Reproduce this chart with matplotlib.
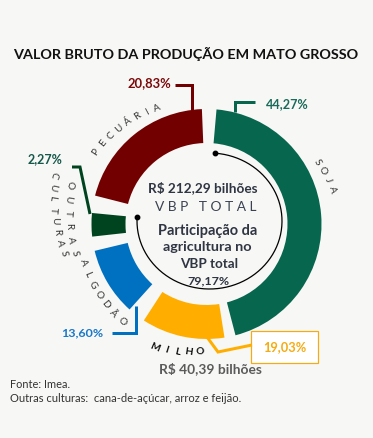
import matplotlib
matplotlib.use("Agg")
import matplotlib.pyplot as plt
from matplotlib.patches import Wedge, Rectangle
import numpy as np

# ---------------- data ----------------
categories = ["Soja", "Milho", "Algodão", "Outras culturas", "Pecuária"]
shares = [44.27, 19.03, 13.60, 2.27, 20.83]          # % of VBP
vbp_total = 212.29                                    # R$ bilhões
agri_share = 79.17                                    # % agricultura
milho_value = 40.39                                   # R$ bilhões
title = "VALOR BRUTO DA PRODUÇÃO EM MATO GROSSO"
source = "Fonte: Imea."
note = "Outras culturas:  cana-de-açúcar, arroz e feijão."

# ---------------- layout / style ----------------
W, H = 373, 438
BG = "#f7f7f5"
colors = ["#07664e", "#ffae00", "#0070c0", "#00431f", "#720000"]
label_colors = ["#1b6b5a", "#f5ab12", "#1a78c8", "#15584a", "#7a0a0a"]
# angular extent of each ring segment (degrees clockwise from 12 o'clock)
seg_angles = [(5.0, 165.4), (171.0, 213.0), (222.0, 256.5), (263.7, 275.5), (284.3, 357.7)]
CX, CY, R_OUT, R_IN = 206.5, 224.0, 115.0, 81.0
FONT = "Lato"

def fmt(v):
    return f"{v:.2f}".replace(".", ",")

fig = plt.figure(figsize=(W / 100, H / 100), dpi=100)
fig.patch.set_facecolor(BG)
ax = fig.add_axes([0, 0, 1, 1])
ax.set_xlim(0, W)
ax.set_ylim(H, 0)
ax.axis("off")
renderer = fig.canvas.get_renderer()

def fit(t, width):
    bb = t.get_window_extent(renderer)
    t.set_fontsize(t.get_fontsize() * width / bb.width)
    return t

def px(p):  # pixel -> points
    return p * 0.72

# ring segments
for (a0, a1), c in zip(seg_angles, colors):
    ax.add_patch(Wedge((CX, CY), R_OUT, a0 - 90, a1 - 90, width=R_OUT - R_IN,
                       facecolor=c, edgecolor="none"))

# curved letter text
def arc_text(s, r0, r1, th0, th1, size, color="#333333", weight="normal"):
    n = len(s)
    for i, ch in enumerate(s):
        t = i / (n - 1)
        th = th0 + (th1 - th0) * t
        r = r0 + (r1 - r0) * t
        rad = np.radians(th)
        x = CX + r * np.sin(rad)
        y = CY - r * np.cos(rad)
        rot = -th if th1 > th0 else 180 - th
        ax.text(x, y, ch, rotation=rot, rotation_mode="anchor", ha="center",
                va="center", fontsize=size, color=color, fontweight=weight,
                family=FONT)

arc_text("PECUÁRIA", 132.5, 126.0, 303.0, 337.0, 7.2)
arc_text("SOJA", 126.7, 130.0, 60.7, 74.8, 7.2)
arc_text("ALGODÃO", 129.5, 129.5, 252.5, 220.8, 7.2)
arc_text("MILHO", 134.0, 128.0, 202.6, 182.9, 7.4, color="#111111", weight="bold")
arc_text("OUTRAS", 142.0, 134.7, 286.0, 257.6, 7.2)
arc_text("CULTURAS", 160.0, 146.0, 287.8, 258.6, 7.2)

# inner arc (share of agriculture)
ECX, ECY, ERX, ERY = 209.5, 221.0, 72.5, 68.0
th = np.radians(np.linspace(4.4, 273.4, 300))
ax.plot(ECX + ERX * np.sin(th), ECY - ERY * np.cos(th), color="black", lw=0.9)
ax.plot([ECX + ERX * np.sin(th[0]), ECX + ERX * np.sin(th[-1])],
        [ECY - ERY * np.cos(th[0]), ECY - ERY * np.cos(th[-1])],
        "o", color="black", ms=3.2, ls="none")

# center texts
dark = "#2f3542"
fit(ax.text(202.5, 188, f"R$ {fmt(vbp_total)} bilhões", ha="center", va="center",
            fontsize=9, fontweight="bold", color=dark, family=FONT), 109)
fit(ax.text(206, 207, "V B P   T O T A L", ha="center", va="center",
            fontsize=9, color="#3a4252", family=FONT), 102)
fit(ax.text(207.5, 231, "Participação da", ha="center", va="center",
            fontsize=9, fontweight="bold", color=dark, family=FONT), 99)
fit(ax.text(207.5, 247, "agricultura no", ha="center", va="center",
            fontsize=9, fontweight="bold", color=dark, family=FONT), 89)
fit(ax.text(209, 264, "VBP total", ha="center", va="center",
            fontsize=9, fontweight="bold", color=dark, family=FONT), 58)
fit(ax.text(208, 280.5, f"{fmt(agri_share)}%", ha="center", va="center",
            fontsize=9, fontweight="bold", color=dark, family=FONT), 42)

# title
fit(ax.text(185.5, 54, title, ha="center", va="center", fontsize=10,
            fontweight="bold", color="#111111", family=FONT), 345)

# milho value
fit(ax.text(210.5, 369, f"R$ {fmt(milho_value)} bilhões", ha="center", va="center",
            fontsize=10, fontweight="bold", color="#5a5a5a", family=FONT), 103)

# footer
fit(ax.text(10, 385, source, ha="left", va="center", fontsize=8,
            color="#333333", family=FONT), 60)
fit(ax.text(10, 399, note, ha="left", va="center", fontsize=8,
            color="#333333", family=FONT), 231)

# percentage labels
lbl_pos = [(287.5, 104, 43), (284.5, 347, 43), (82, 333, 42), (45.5, 159, 35), (149, 83, 44)]
for v, (x, y, w), c in zip(shares, lbl_pos, label_colors):
    fit(ax.text(x, y, f"{fmt(v)}%", ha="center", va="center", fontsize=9,
                fontweight="bold", color=c, family=FONT), w)

# leader lines
LW = px(3)
leaders = [
    [(235, 112), (235, 102), (255, 102)],
    [(207, 337), (218, 352), (252, 345)],
    [(136, 306), (136, 333), (112, 333)],
    [(72, 167), (80, 167), (90, 214)],
    [(175, 85), (192, 85), (192, 110)],
]
for pts, c in zip(leaders, colors):
    xs, ys = zip(*pts)
    ax.plot(xs, ys, color=c, lw=LW, solid_joinstyle="miter", solid_capstyle="butt")

# box around milho label
ax.add_patch(Rectangle((251, 331), 67, 32, facecolor="white", edgecolor="#f5ab12",
                       lw=px(1.2), zorder=1))

fig.savefig("out.png", dpi=100, facecolor=BG)
